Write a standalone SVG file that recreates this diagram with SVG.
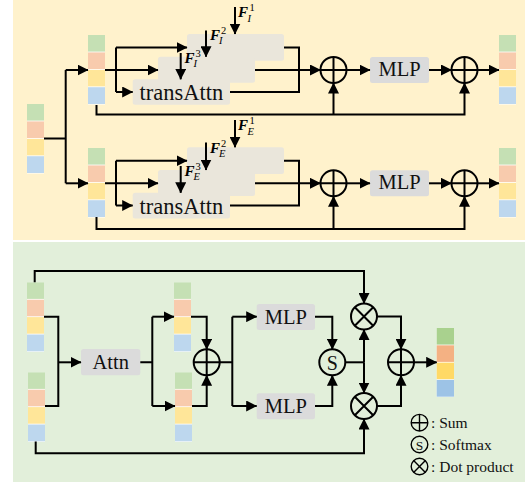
<svg xmlns="http://www.w3.org/2000/svg" width="529" height="485" viewBox="0 0 529 485">
<style>
.ln{fill:none;stroke:#000;stroke-width:2}
.ar{fill:none;stroke:#000;stroke-width:2;marker-end:url(#ah)}
.circ{fill:none;stroke:#000;stroke-width:2}
.lg{fill:none;stroke:#000;stroke-width:1.4}
.box{fill:#DBDBDB}
.tbox{fill:#EAE6DB}
.lbl{font-family:"Liberation Serif","Times New Roman",serif;font-size:20.5px;fill:#111;text-anchor:middle}
.F{font-family:"Liberation Serif","Times New Roman",serif;font-size:15px;font-weight:bold;font-style:italic;fill:#000}
.sup{font-family:"Liberation Serif","Times New Roman",serif;font-size:10.5px;fill:#000}
.sub{font-family:"Liberation Serif","Times New Roman",serif;font-size:10.5px;font-style:italic;fill:#000}
.leg{font-family:"Liberation Serif","Times New Roman",serif;font-size:15.5px;fill:#111}
.g{fill:#C5E0B4}.o{fill:#F8CBAD}.y{fill:#FFE699}.b{fill:#BDD7EE}
.G{fill:#A9D18E}.O{fill:#F4B183}.Y{fill:#FFD966}.B{fill:#9DC3E6}
</style>
<defs>
<marker id="ah" markerUnits="userSpaceOnUse" markerWidth="11" markerHeight="11" viewBox="0 0 11 11" refX="10.5" refY="5.5" orient="auto">
<path d="M0,0 L11,5.5 L0,11 z" fill="#000"/>
</marker>
<g id="stk">
<rect x="0" y="0" width="17" height="69.5" fill="#fff"/>
<rect class="g" x="0" y="0" width="17" height="16.6"/>
<rect class="o" x="0" y="17.4" width="17" height="16.6"/>
<rect class="y" x="0" y="34.8" width="17" height="16.6"/>
<rect class="b" x="0" y="52.2" width="17" height="16.8"/>
</g>
</defs>

<rect x="13" y="0" width="512" height="240" fill="#FFF2CC"/>
<rect x="13" y="242" width="512" height="240" fill="#E2EFDA"/>

<g id="in-top"><use href="#stk" x="27" y="104"/></g>
<g id="stack-I"><use href="#stk" x="88" y="35"/></g>
<g id="stack-E"><use href="#stk" x="88" y="148"/></g>
<g id="out-I"><use href="#stk" x="499" y="35"/></g>
<g id="out-E"><use href="#stk" x="499" y="148"/></g>

<g id="transAttn-I">
<rect class="tbox" x="187" y="34" width="97" height="26.7" rx="2.5"/>
<rect class="tbox" x="158" y="56.7" width="97" height="26" rx="2.5"/>
<rect class="tbox" x="132.7" y="79.3" width="97.3" height="25.4" rx="2.5"/>
<text class="lbl" x="181.3" y="100" style="font-size:22.5px">transAttn</text>
</g>
<g id="transAttn-E">
<rect class="tbox" x="187" y="147.3" width="97" height="26.7" rx="2.5"/>
<rect class="tbox" x="158" y="170" width="97" height="26" rx="2.5"/>
<rect class="tbox" x="132.7" y="192.8" width="97.3" height="25.7" rx="2.5"/>
<text class="lbl" x="181.3" y="213.5" style="font-size:22.5px">transAttn</text>
</g>

<g id="labels-I">
<text class="F" x="238" y="16.5">F</text><text class="sup" x="249.5" y="10.5">1</text><text class="sub" x="247.5" y="21.5">I</text>
<text class="F" x="210" y="39.5">F</text><text class="sup" x="221" y="33.5">2</text><text class="sub" x="219" y="44">I</text>
<text class="F" x="184.5" y="62.7">F</text><text class="sup" x="195.5" y="56.5">3</text><text class="sub" x="193.5" y="67">I</text>
</g>
<g id="labels-E">
<text class="F" x="238" y="129.5">F</text><text class="sup" x="249.5" y="123.5">1</text><text class="sub" x="247.5" y="134.5">E</text>
<text class="F" x="210" y="152.5">F</text><text class="sup" x="221" y="146.5">2</text><text class="sub" x="219" y="157">E</text>
<text class="F" x="184.5" y="175.7">F</text><text class="sup" x="195.5" y="169.5">3</text><text class="sub" x="193.5" y="180">E</text>
</g>

<g id="sum-I1"><circle class="circ" cx="333.5" cy="70" r="13"/><path class="ln" d="M320.5,70 H346.5 M333.5,57 V83"/></g>
<g id="mlp-I"><rect class="box" x="370" y="57" width="59" height="26" rx="2.5"/><text class="lbl" x="399.5" y="76">MLP</text></g>
<g id="sum-I2"><circle class="circ" cx="464.5" cy="70" r="13"/><path class="ln" d="M451.5,70 H477.5 M464.5,57 V83"/></g>
<g id="sum-E1"><circle class="circ" cx="333.5" cy="183.3" r="13"/><path class="ln" d="M320.5,183.3 H346.5 M333.5,170.3 V196.3"/></g>
<g id="mlp-E"><rect class="box" x="370" y="170.3" width="59" height="26" rx="2.5"/><text class="lbl" x="399.5" y="189.3">MLP</text></g>
<g id="sum-E2"><circle class="circ" cx="464.5" cy="183.3" r="13"/><path class="ln" d="M451.5,183.3 H477.5 M464.5,170.3 V196.3"/></g>

<g id="in-A"><use href="#stk" x="27" y="282.3"/></g>
<g id="in-B"><use href="#stk" x="28" y="372.3"/></g>
<g id="attn"><rect class="box" x="81" y="349" width="59.3" height="26.3" rx="2.5"/><text class="lbl" x="110.7" y="369">Attn</text></g>
<g id="stack-C"><use href="#stk" x="174" y="282.3"/></g>
<g id="stack-D"><use href="#stk" x="175" y="372.3"/></g>
<g id="sum-b1"><circle class="circ" cx="206.7" cy="362.3" r="13"/><path class="ln" d="M193.7,362.3 H219.7 M206.7,349.3 V375.3"/></g>
<g id="mlp-b1"><rect class="box" x="256.7" y="304" width="58.3" height="26" rx="2.5"/><text class="lbl" x="285.8" y="323.5">MLP</text></g>
<g id="mlp-b2"><rect class="box" x="256.7" y="393.3" width="58.3" height="26" rx="2.5"/><text class="lbl" x="285.8" y="412.8">MLP</text></g>
<g id="softmax"><circle class="circ" cx="332.3" cy="362.3" r="13"/><text class="lbl" x="332.3" y="369.5" style="font-size:20px">S</text></g>
<g id="dot-1"><circle class="circ" cx="364" cy="316.5" r="13"/><path class="ln" d="M354.8,307.3 L373.2,325.7 M373.2,307.3 L354.8,325.7"/></g>
<g id="dot-2"><circle class="circ" cx="364" cy="406" r="13"/><path class="ln" d="M354.8,396.8 L373.2,415.2 M373.2,396.8 L354.8,415.2"/></g>
<g id="sum-b2"><circle class="circ" cx="401" cy="362.3" r="13"/><path class="ln" d="M388,362.3 H414 M401,349.3 V375.3"/></g>
<g id="out-b">
<rect x="436.7" y="328" width="17.3" height="69" fill="#fff"/>
<rect class="G" x="436.7" y="328" width="17.3" height="16.6"/>
<rect class="O" x="436.7" y="345.3" width="17.3" height="16.6"/>
<rect class="Y" x="436.7" y="362.6" width="17.3" height="16.6"/>
<rect class="B" x="436.7" y="379.9" width="17.3" height="16.8"/>
</g>

<g id="legend">
<circle class="lg" cx="419.5" cy="422.7" r="8.3"/><path class="lg" d="M411.2,422.7 H427.8 M419.5,414.4 V431"/>
<text class="leg" x="431" y="427.5">: Sum</text>
<circle class="lg" cx="419.5" cy="444.5" r="8.3"/><text class="leg" x="419.5" y="449.5" text-anchor="middle" style="font-size:13.5px">S</text>
<text class="leg" x="431" y="449.5">: Softmax</text>
<circle class="lg" cx="419.5" cy="466.5" r="8.3"/><path class="lg" d="M413.6,460.6 L425.4,472.4 M425.4,460.6 L413.6,472.4"/>
<text class="leg" x="431" y="471.5">: Dot product</text>
</g>

<g id="connectors">
<path class="ln" d="M44,138.5 H65.7 M65.7,70 V183.3"/>
<path class="ar" d="M65.7,70 H88"/>
<path class="ar" d="M65.7,183.3 H88"/>
<path class="ar" d="M105,70 H158"/>
<path class="ln" d="M116,47.5 V92"/>
<path class="ar" d="M116,47.5 H187"/>
<path class="ar" d="M116,92 H132.7"/>
<path class="ln" d="M284,47.5 H299 V92 H230"/>
<path class="ar" d="M255,70 H320.5"/>
<path class="ar" d="M346.5,70 H370"/>
<path class="ar" d="M429,70 H451.5"/>
<path class="ar" d="M477.5,70 H499"/>
<path class="ar" d="M96.5,105 V114.5 H464.5 V83"/>
<path class="ar" d="M333.5,114.5 V83"/>
<path class="ar" d="M235,7 V34"/>
<path class="ar" d="M206,30.5 V56.7"/>
<path class="ar" d="M180.7,53 V79.3"/>
<path class="ar" d="M105,183.3 H158"/>
<path class="ln" d="M116,160.7 V205.5"/>
<path class="ar" d="M116,160.7 H187"/>
<path class="ar" d="M116,205.5 H132.7"/>
<path class="ln" d="M284,160.7 H299 V205.5 H230"/>
<path class="ar" d="M255,183.3 H320.5"/>
<path class="ar" d="M346.5,183.3 H370"/>
<path class="ar" d="M429,183.3 H451.5"/>
<path class="ar" d="M477.5,183.3 H499"/>
<path class="ar" d="M96.5,217 V229 H464.5 V196.3"/>
<path class="ar" d="M333.5,229 V196.3"/>
<path class="ar" d="M235,120 V147.3"/>
<path class="ar" d="M206,142.5 V170"/>
<path class="ar" d="M180.7,166 V192.8"/>
<path class="ar" d="M34.7,282.3 V271 H364 V303.5"/>
<path class="ar" d="M35.7,441.5 V453.3 H364 V419"/>
<path class="ln" d="M44,316.7 H58.3 V406 H45"/>
<path class="ar" d="M58.3,362.3 H81"/>
<path class="ln" d="M140.3,362.3 H152.3 M152.3,316.7 V406"/>
<path class="ar" d="M152.3,316.7 H174"/>
<path class="ar" d="M152.3,406 H175"/>
<path class="ar" d="M191,316.7 H206.7 V349.3"/>
<path class="ar" d="M192,406 H206.7 V375.3"/>
<path class="ln" d="M219.7,362.3 H232.3 M232.3,316.7 V406"/>
<path class="ar" d="M232.3,316.7 H256.7"/>
<path class="ar" d="M232.3,406 H256.7"/>
<path class="ar" d="M315,316.7 H332.3 V349.3"/>
<path class="ar" d="M315,406 H332.3 V375.3"/>
<path class="ln" d="M345.3,362.3 H364"/>
<path class="ar" d="M364,362.3 V329.5"/>
<path class="ar" d="M364,362.3 V393"/>
<path class="ar" d="M377,316.5 H401 V349.3"/>
<path class="ar" d="M377,406 H401 V375.3"/>
<path class="ar" d="M414,362.3 H436.7"/>
</g>
</svg>
